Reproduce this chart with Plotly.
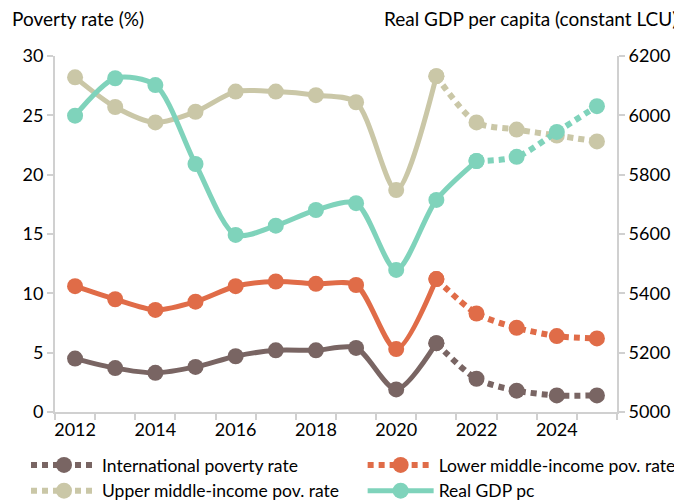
import plotly.graph_objects as go

years = list(range(2012, 2026))
intl_pov = [4.5, 3.7, 3.3, 3.8, 4.7, 5.2, 5.2, 5.4, 1.9, 5.8, 2.8, 1.8, 1.4, 1.4]
lower_pov = [10.6, 9.5, 8.6, 9.3, 10.6, 11.0, 10.8, 10.7, 5.3, 11.2, 8.3, 7.1, 6.4, 6.2]
upper_pov = [28.2, 25.7, 24.4, 25.3, 27.0, 27.0, 26.7, 26.1, 18.7, 28.3, 24.4, 23.8, 23.3, 22.8]
gdp_pc = [5999, 6125, 6102, 5836, 5597, 5628, 5681, 5704, 5479, 5715, 5846, 5860, 5944, 6031]
tick_years = [2012, 2014, 2016, 2018, 2020, 2022, 2024]

last_actual_pov = 2021
last_actual_gdp = 2022

COL_INTL = "#796563"
COL_LOWER = "#e06c48"
COL_UPPER = "#cac7a7"
COL_GDP = "#7fd3bb"
AXIS_GREY = "#d0d0d0"
FONT = "Lato"


def split(xs, ys, cut):
    i = xs.index(cut)
    return (xs[:i + 1], ys[:i + 1]), (xs[i:], ys[i:])


fig = go.Figure()


def add_series(name, ys, color, cut, yaxis, legend_on_dotted, legend):
    (xa, ya), (xf, yf) = split(years, ys, cut)
    fig.add_trace(go.Scatter(x=xa, y=ya, mode="lines+markers", name=name,
                             line=dict(color=color, width=5, shape="spline", smoothing=0.8),
                             marker=dict(color=color, size=16),
                             showlegend=not legend_on_dotted, legend=legend, legendgroup=name,
                             yaxis=yaxis))
    fig.add_trace(go.Scatter(x=xf, y=yf, mode="lines+markers", name=name,
                             line=dict(color=color, width=6, dash="6px,5px", shape="spline", smoothing=0.8),
                             marker=dict(color=color, size=16),
                             showlegend=legend_on_dotted, legend=legend, legendgroup=name,
                             yaxis=yaxis))


add_series("International poverty rate", intl_pov, COL_INTL, last_actual_pov, "y", True, "legend")
add_series("Upper middle-income pov. rate", upper_pov, COL_UPPER, last_actual_pov, "y", True, "legend")
add_series("Lower middle-income pov. rate", lower_pov, COL_LOWER, last_actual_pov, "y", True, "legend2")
add_series("Real GDP pc", gdp_pc, COL_GDP, last_actual_gdp, "y2", False, "legend2")

legend_style = dict(orientation="v", xref="container", yref="container", y=0.122,
                    xanchor="left", yanchor="top", font=dict(size=17.5),
                    tracegroupgap=0, itemwidth=66, bgcolor="rgba(0,0,0,0)")

fig.update_layout(
    width=682, height=500,
    margin=dict(l=47, r=73, t=48, b=96, autoexpand=False),
    plot_bgcolor="white", paper_bgcolor="white",
    font=dict(family=FONT, size=18, color="black"),
    xaxis=dict(range=[2011.5, 2025.5], tickvals=tick_years, ticks="",
               showline=True, linecolor=AXIS_GREY, linewidth=2, showgrid=False, zeroline=False,
               minor=dict(tick0=2011.5, dtick=1, ticks="outside", ticklen=6,
                          tickcolor=AXIS_GREY, tickwidth=2, showgrid=False)),
    yaxis=dict(range=[0, 30], dtick=5, ticks="outside", ticklen=6, tickcolor=AXIS_GREY, tickwidth=2,
               showline=True, linecolor=AXIS_GREY, linewidth=2, showgrid=False, zeroline=False),
    yaxis2=dict(range=[5000, 6200], dtick=200, ticks="outside", ticklen=6, tickcolor=AXIS_GREY,
                tickwidth=2, showline=True, linecolor=AXIS_GREY, linewidth=2, showgrid=False,
                zeroline=False, overlaying="y", side="right"),
    legend=dict(x=0.0264, **legend_style),
    legend2=dict(x=0.52, **legend_style),
    showlegend=True,
)

fig.add_annotation(text="Poverty rate (%)", xref="paper", yref="paper", x=-0.08, y=1.0,
                   yshift=38, xanchor="left", yanchor="middle", showarrow=False, font=dict(size=19))
fig.add_annotation(text="Real GDP per capita (constant LCU)", xref="paper", yref="paper", x=1.11, y=1.0,
                   yshift=38, xanchor="right", yanchor="middle", showarrow=False, font=dict(size=19))

fig.write_html("out.html")
